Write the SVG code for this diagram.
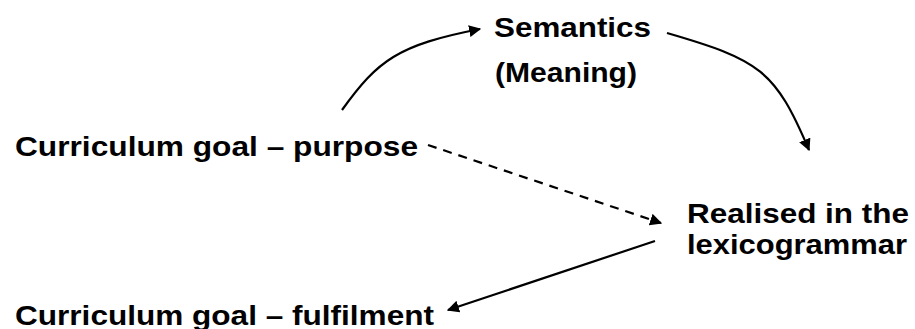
<svg xmlns="http://www.w3.org/2000/svg" width="915" height="329" viewBox="0 0 915 329">
<style>
text{font-family:"Liberation Sans",Arial,sans-serif;font-weight:bold;font-size:28px;fill:#000}
.c{fill:none;stroke:#000;stroke-width:2.2}
.d{stroke-dasharray:9,7}
</style>
<defs>
<marker id="ah" viewBox="0 0 10 10" refX="9" refY="5" markerWidth="5.5" markerHeight="5.5" orient="auto" markerUnits="strokeWidth">
<path d="M0,0 L10,5 L0,10 z" fill="#000"/>
</marker>
</defs>
<rect width="915" height="329" fill="#fff"/>
<g id="connectors">
<path class="c" d="M342,110 C378,60 398,45 480,29" marker-end="url(#ah)"/>
<path class="c" d="M667,33 C760,60 775,70 809,150" marker-end="url(#ah)"/>
<path class="c d" d="M428,145 L661,223" marker-end="url(#ah)"/>
<path class="c" d="M655,241 L448,310" marker-end="url(#ah)"/>
</g>
<g id="semantics"><text x="494" y="37" textLength="157" lengthAdjust="spacingAndGlyphs">Semantics</text><text x="495" y="82" textLength="142" lengthAdjust="spacingAndGlyphs">(Meaning)</text></g>
<g id="purpose"><text x="15" y="156" textLength="403" lengthAdjust="spacingAndGlyphs">Curriculum goal – purpose</text></g>
<g id="realised"><text x="687" y="223" textLength="222" lengthAdjust="spacingAndGlyphs">Realised in the</text><text x="687" y="254" textLength="220" lengthAdjust="spacingAndGlyphs">lexicogrammar</text></g>
<g id="fulfilment"><text x="15" y="325" textLength="419" lengthAdjust="spacingAndGlyphs">Curriculum goal – fulfilment</text></g>
</svg>
